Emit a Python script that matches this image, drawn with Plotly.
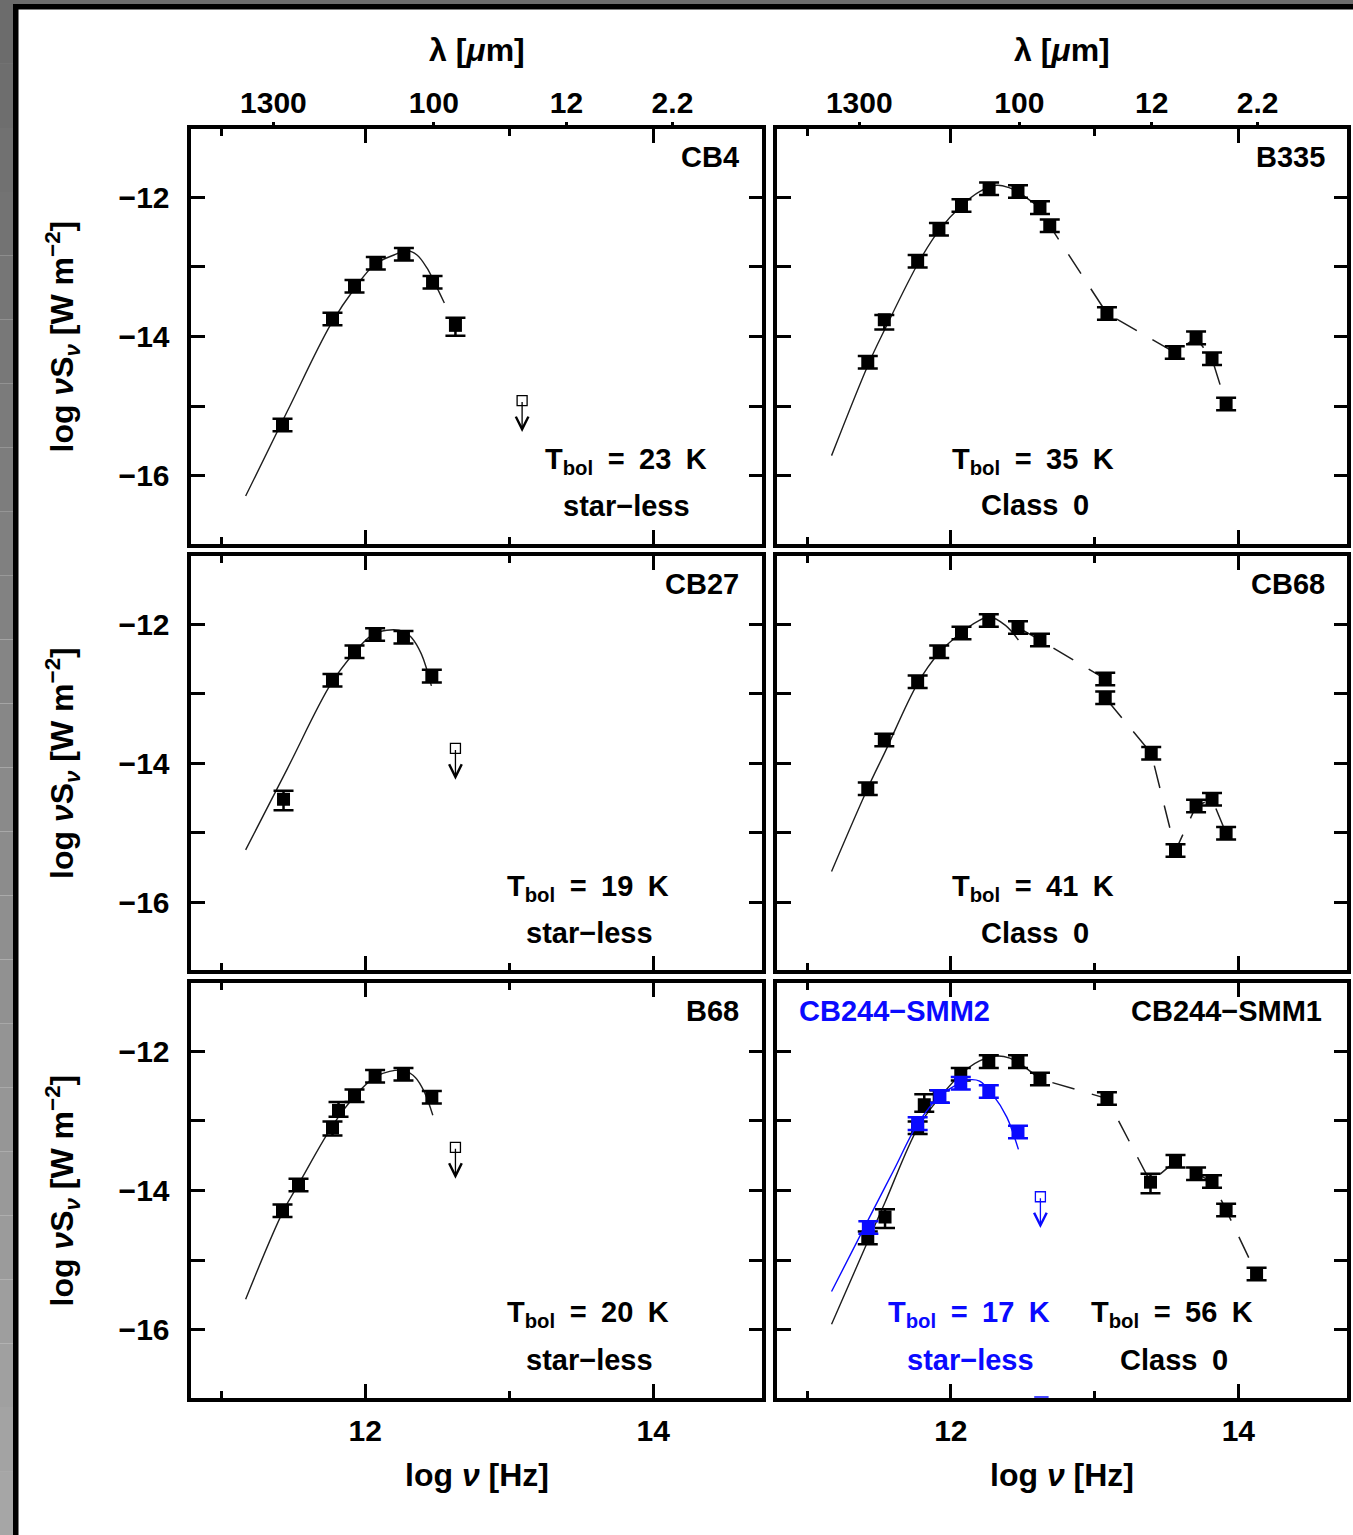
import plotly.graph_objects as go
import numpy as np

# ---------------------------------------------------------------------------
# Spectral energy distributions: log nu [Hz] vs log nuS_nu [W m^-2]
# ---------------------------------------------------------------------------

# CB4 (star-less)
cb4_lognu = [11.426, 11.773, 11.926, 12.074, 12.269, 12.468, 12.627]
cb4_logflux = [-15.27, -13.75, -13.28, -12.95, -12.82, -13.22, -13.84]
cb4_err_up = [0.09, 0.09, 0.09, 0.09, 0.09, 0.09, 0.11]
cb4_err_dn = [0.09, 0.09, 0.09, 0.09, 0.09, 0.09, 0.15]
cb4_lim_lognu = [13.09]
cb4_lim_logflux = [-14.92]
cb4_fit_lognu = [11.17, 11.46, 11.76, 11.93, 12.07, 12.20, 12.29, 12.36, 12.43, 12.48, 12.55]
cb4_fit_logflux = [-16.29, -15.07, -13.83, -13.30, -12.96, -12.83, -12.77, -12.83, -13.02, -13.22, -13.52]

# B335 (Class 0)
b335_lognu = [11.422, 11.537, 11.769, 11.917, 12.074, 12.266, 12.467, 12.620, 12.688,
              13.086, 13.558, 13.706, 13.817, 13.915]
b335_logflux = [-14.37, -13.76, -12.92, -12.46, -12.12, -11.88, -11.92, -12.15, -12.41,
                -13.67, -14.23, -14.02, -14.32, -14.97]
b335_err_up = [0.09, 0.07, 0.09, 0.09, 0.09, 0.09, 0.09, 0.09, 0.09, 0.09, 0.09, 0.09, 0.09, 0.09]
b335_err_dn = [0.09, 0.14, 0.09, 0.09, 0.09, 0.09, 0.09, 0.09, 0.09, 0.09, 0.09, 0.09, 0.09, 0.09]
b335_fit_lognu = [11.17, 11.43, 11.54, 11.78, 11.92, 12.07, 12.20, 12.32, 12.40, 12.47]
b335_fit_logflux = [-15.71, -14.38, -13.90, -12.92, -12.47, -12.13, -11.92, -11.83, -11.86, -11.93]

# CB27 (star-less)
cb27_lognu = [11.433, 11.773, 11.926, 12.069, 12.266, 12.463]
cb27_logflux = [-14.52, -12.81, -12.40, -12.15, -12.19, -12.75]
cb27_err_up = [0.12, 0.09, 0.09, 0.09, 0.09, 0.09]
cb27_err_dn = [0.16, 0.09, 0.09, 0.09, 0.09, 0.09]
cb27_lim_lognu = [12.627]
cb27_lim_logflux = [-13.79]
cb27_fit_lognu = [11.17, 11.46, 11.76, 11.93, 12.04, 12.15, 12.27, 12.32, 12.39, 12.46]
cb27_fit_logflux = [-15.25, -14.08, -12.87, -12.40, -12.17, -12.09, -12.11, -12.19, -12.43, -12.89]

# CB68 (Class 0)
cb68_lognu = [11.422, 11.537, 11.769, 11.919, 12.074, 12.264, 12.467, 12.620, 13.074, 13.074,
              13.394, 13.563, 13.706, 13.817, 13.915]
cb68_logflux = [-14.37, -13.67, -12.83, -12.40, -12.13, -11.95, -12.05, -12.23, -12.79, -13.06,
                -13.86, -15.26, -14.62, -14.52, -15.01]
cb68_err_up = [0.09] * 15
cb68_err_dn = [0.09] * 15
cb68_fit_lognu = [11.17, 11.42, 11.54, 11.77, 11.92, 12.07, 12.18, 12.27, 12.38, 12.47]
cb68_fit_logflux = [-15.56, -14.37, -13.85, -12.85, -12.41, -12.13, -11.97, -11.90, -12.02, -12.23]

# B68 (star-less)
b68_lognu = [11.426, 11.537, 11.773, 11.815, 11.926, 12.069, 12.266, 12.463]
b68_logflux = [-14.29, -13.92, -13.10, -12.85, -12.64, -12.36, -12.33, -12.66]
b68_err_up = [0.09, 0.09, 0.09, 0.12, 0.09, 0.09, 0.09, 0.09]
b68_err_dn = [0.09, 0.09, 0.11, 0.09, 0.09, 0.09, 0.09, 0.09]
b68_lim_lognu = [12.627]
b68_lim_logflux = [-13.38]
b68_fit_lognu = [11.17, 11.43, 11.54, 11.77, 11.93, 12.07, 12.17, 12.27, 12.35, 12.41, 12.47]
b68_fit_logflux = [-15.56, -14.30, -13.90, -13.08, -12.64, -12.37, -12.29, -12.28, -12.38, -12.58, -12.92]

# CB244-SMM1 (Class 0)
smm1_lognu = [11.422, 11.542, 11.769, 11.815, 11.919, 12.069, 12.264, 12.467, 12.620, 13.086,
              13.389, 13.563, 13.706, 13.817, 13.915, 14.127]
smm1_logflux = [-14.68, -14.38, -13.10, -12.77, -12.65, -12.33, -12.15, -12.15, -12.40, -12.68,
                -13.88, -13.58, -13.76, -13.87, -14.28, -15.20]
smm1_err_up = [0.09, 0.11, 0.09, 0.15, 0.09, 0.09, 0.09, 0.09, 0.09, 0.09, 0.12, 0.09, 0.09, 0.09, 0.09, 0.09]
smm1_err_dn = [0.09, 0.16, 0.09, 0.10, 0.09, 0.09, 0.09, 0.09, 0.09, 0.09, 0.16, 0.09, 0.09, 0.09, 0.09, 0.09]
smm1_fit_lognu = [11.17, 11.42, 11.54, 11.77, 11.92, 12.07, 12.20, 12.32, 12.41, 12.47]
smm1_fit_logflux = [-15.92, -14.74, -14.18, -13.10, -12.67, -12.33, -12.14, -12.07, -12.10, -12.17]

# CB244-SMM2 (star-less)
smm2_lognu = [11.426, 11.769, 11.924, 12.069, 12.264, 12.467]
smm2_logflux = [-14.53, -13.04, -12.65, -12.46, -12.58, -13.16]
smm2_err_up = [0.09] * 6
smm2_err_dn = [0.09] * 6
smm2_lim_lognu = [12.623]
smm2_lim_logflux = [-14.09]
smm2_fit_lognu = [11.17, 11.43, 11.60, 11.77, 11.92, 12.07, 12.13, 12.20, 12.29, 12.39, 12.47]
smm2_fit_logflux = [-15.45, -14.40, -13.72, -13.04, -12.65, -12.45, -12.41, -12.43, -12.62, -12.95, -13.41]

# Axis ticks
lognu_major = [12, 14]
lognu_major_text = ["12", "14"]
lognu_minor = [11, 13]
logflux_major = [-16, -14, -12]
logflux_major_text = ["\u221216", "\u221214", "\u221212"]
logflux_minor = [-15, -13]
wavelength_um = [1300, 100, 12, 2.2]
wavelength_text = ["1300", "100", "12", "2.2"]
C_UM_HZ = 2.99792458e14  # speed of light in micron * Hz

# ---------------------------------------------------------------------------
# Page geometry (pixels)
# ---------------------------------------------------------------------------
FIG_W, FIG_H = 1353, 1535
FRAME_LW = 3.5
COLS_PX = [(189.5, 764.0), (775.5, 1349.0)]
ROWS_PX = [(127.5, 545.5), (554.5, 971.5), (981.5, 1399.5)]
X_SPAN = (10.78, 14.77)
Y_SPAN = (-17.0, -11.0)

FONT = "Liberation Sans"
FS = 29        # panel texts
FS_TICK = 30   # tick labels
FS_TITLE = 32  # axis titles
BLUE = "#0a0aff"
INK = "#000000"
CURVE = "#1e1e1e"
ARROW_LEN = 0.45


def pxx(x):
    return x / FIG_W


def pxy(y):
    return 1 - y / FIG_H


fig = go.Figure()
layout_axes = {}
tickfont = dict(family=FONT, size=FS_TICK, color=INK, weight="bold")

for r, (top, bot) in enumerate(ROWS_PX):
    for c, (left, right) in enumerate(COLS_PX):
        i = r * 2 + c + 1
        half = FRAME_LW / 2
        xper = (X_SPAN[1] - X_SPAN[0]) / (right - left)
        yper = (Y_SPAN[1] - Y_SPAN[0]) / (bot - top)
        xdom = [pxx(left + half), pxx(right - half)]
        ydom = [pxy(bot - half), pxy(top + half)]
        xr = [X_SPAN[0] + half * xper, X_SPAN[1] - half * xper]
        yr = [Y_SPAN[0] + half * yper, Y_SPAN[1] - half * yper]
        sx = "" if i == 1 else str(i)
        layout_axes[f"xaxis{sx}"] = dict(
            domain=xdom, range=xr, anchor=f"y{sx}",
            showline=True, linewidth=FRAME_LW, linecolor=INK, mirror="allticks",
            ticks="inside", tickvals=lognu_major, ticktext=lognu_major_text,
            ticklen=14, tickwidth=2.5, tickcolor=INK,
            minor=dict(tickmode="array", tickvals=lognu_minor, ticks="inside",
                       ticklen=7, tickwidth=2.5, tickcolor=INK),
            showticklabels=(r == 2), ticklabelstandoff=3,
            tickfont=tickfont,
            showgrid=False, zeroline=False, fixedrange=True,
        )
        layout_axes[f"yaxis{sx}"] = dict(
            domain=ydom, range=yr, anchor=f"x{sx}",
            showline=True, linewidth=FRAME_LW, linecolor=INK, mirror="allticks",
            ticks="inside", tickvals=logflux_major, ticktext=logflux_major_text,
            ticklen=14, tickwidth=2.5, tickcolor=INK,
            minor=dict(tickmode="array", tickvals=logflux_minor, ticks="inside",
                       ticklen=14, tickwidth=2.5, tickcolor=INK),
            showticklabels=(c == 0), ticklabelstandoff=12,
            tickfont=tickfont,
            showgrid=False, zeroline=False, fixedrange=True,
        )

# Wavelength scale along the top of the upper row
lam_pos = [float(np.log10(C_UM_HZ / lam)) for lam in wavelength_um]
for k, base in enumerate(["x", "x2"]):
    ax_name = f"xaxis{7 + k}"
    base_layout = layout_axes["xaxis" if base == "x" else "xaxis2"]
    layout_axes[ax_name] = dict(
        overlaying=base, anchor="y" if base == "x" else "y2", side="top",
        domain=base_layout["domain"], range=base_layout["range"],
        tickvals=lam_pos, ticktext=wavelength_text,
        ticks="outside", ticklen=6, tickwidth=2.5, tickcolor=INK,
        showline=False, showgrid=False, zeroline=False, ticklabelstandoff=-3,
        tickfont=tickfont,
        fixedrange=True,
    )
    fig.add_trace(go.Scatter(x=[None], y=[None], xaxis=f"x{7 + k}",
                             yaxis="y" if base == "x" else "y2",
                             showlegend=False, hoverinfo="skip"))

annotations = []


def add_sed(i, fit_x, fit_y, xs, ys, up, dn, color, dash_from=None,
            lim_x=None, lim_y=None):
    sx = "" if i == 1 else str(i)
    xa, ya = f"x{sx}", f"y{sx}"
    fig.add_trace(go.Scatter(x=fit_x, y=fit_y, mode="lines", xaxis=xa, yaxis=ya,
                             line=dict(color=CURVE if color == INK else color, width=1.4,
                                       shape="spline", smoothing=1.0),
                             showlegend=False, hoverinfo="skip"))
    if dash_from is not None:
        fig.add_trace(go.Scatter(x=xs[dash_from:], y=ys[dash_from:], mode="lines",
                                 xaxis=xa, yaxis=ya,
                                 line=dict(color=CURVE, width=1.5, dash="23px,18px"),
                                 showlegend=False, hoverinfo="skip"))
    fig.add_trace(go.Scatter(
        x=xs, y=ys, mode="markers", xaxis=xa, yaxis=ya,
        marker=dict(symbol="square", size=13, color=color, line=dict(width=0)),
        error_y=dict(type="data", symmetric=False, array=up, arrayminus=dn,
                     color=color, thickness=2.5, width=10),
        showlegend=False, hoverinfo="skip"))
    if lim_x is not None:
        fig.add_trace(go.Scatter(
            x=lim_x, y=lim_y, mode="markers", xaxis=xa, yaxis=ya,
            marker=dict(symbol="square-open", size=10, color=color, line=dict(width=1.3, color=color)),
            showlegend=False, hoverinfo="skip"))
        for lx, ly in zip(lim_x, lim_y):
            annotations.append(dict(
                x=lx, y=ly - ARROW_LEN, ax=lx, ay=ly, xref=xa, yref=ya, axref=xa, ayref=ya,
                text="", showarrow=True, arrowhead=5, arrowsize=1.9, arrowwidth=1.3,
                arrowcolor=color, standoff=0, startstandoff=0))


add_sed(1, cb4_fit_lognu, cb4_fit_logflux, cb4_lognu, cb4_logflux, cb4_err_up, cb4_err_dn,
        INK, lim_x=cb4_lim_lognu, lim_y=cb4_lim_logflux)
add_sed(2, b335_fit_lognu, b335_fit_logflux, b335_lognu, b335_logflux, b335_err_up, b335_err_dn,
        INK, dash_from=6)
add_sed(3, cb27_fit_lognu, cb27_fit_logflux, cb27_lognu, cb27_logflux, cb27_err_up, cb27_err_dn,
        INK, lim_x=cb27_lim_lognu, lim_y=cb27_lim_logflux)
add_sed(4, cb68_fit_lognu, cb68_fit_logflux, cb68_lognu, cb68_logflux, cb68_err_up, cb68_err_dn,
        INK, dash_from=6)
add_sed(5, b68_fit_lognu, b68_fit_logflux, b68_lognu, b68_logflux, b68_err_up, b68_err_dn,
        INK, lim_x=b68_lim_lognu, lim_y=b68_lim_logflux)
add_sed(6, smm1_fit_lognu, smm1_fit_logflux, smm1_lognu, smm1_logflux, smm1_err_up, smm1_err_dn,
        INK, dash_from=7)
add_sed(6, smm2_fit_lognu, smm2_fit_logflux, smm2_lognu, smm2_logflux, smm2_err_up, smm2_err_dn,
        BLUE, lim_x=smm2_lim_lognu, lim_y=smm2_lim_logflux)


def label(text, x, y, xanchor="center", color=INK, size=FS):
    annotations.append(dict(text=text, x=pxx(x), y=pxy(y), xref="paper", yref="paper",
                            xanchor=xanchor, yanchor="middle", showarrow=False,
                            font=dict(family=FONT, size=size, color=color, weight="bold")))


SP = "\u2002"
MINUS = "\u2212"

# Source names
label("CB4", 741, 157, "right")
label("B335", 1327, 157, "right")
label("CB27", 741, 584, "right")
label("CB68", 1327, 584, "right")
label("B68", 741, 1011, "right")
label(f"CB244{MINUS}SMM1", 1324, 1011, "right")
label(f"CB244{MINUS}SMM2", 797, 1011, "left", color=BLUE)


# Bolometric temperatures and classes
def tbol(t):
    return f"T<sub>bol</sub>{SP}={SP}{t}{SP}K"


CLASS0 = f"Class{SP}0"
STARLESS = f"star{MINUS}less"

label(tbol(23), 626, 461)
label(STARLESS, 626, 506)
label(tbol(35), 1033, 461)
label(CLASS0, 1035, 505)
label(tbol(19), 588, 888)
label(STARLESS, 589, 933)
label(tbol(41), 1033, 888)
label(CLASS0, 1035, 933)
label(tbol(20), 588, 1314)
label(STARLESS, 589, 1360)
label(tbol(17), 969, 1314, color=BLUE)
label(STARLESS, 970, 1360, color=BLUE)
label(tbol(56), 1172, 1314)
label(CLASS0, 1174, 1360)

# Axis titles
for cx in [476.7, 1062.2]:
    label("\u03bb [<i>\u03bc</i>m]", cx, 50, size=FS_TITLE)
    label("log <i>\u03bd</i> [Hz]", cx, 1475, size=FS_TITLE)
for cy in [336.5, 763.0, 1190.5]:
    annotations.append(dict(
        text=f"log <i>\u03bd</i>S<sub><i>\u03bd</i></sub> [W m<sup>{MINUS}2</sup>]",
        x=pxx(62), y=pxy(cy), xref="paper", yref="paper", textangle=-90,
        xanchor="center", yanchor="middle", showarrow=False,
        font=dict(family=FONT, size=FS_TITLE, color=INK, weight="bold")))

# Window frame around the page
shapes = []
n_band = 24
for b in range(n_band):
    g = int(108 + (166 - 108) * b / (n_band - 1))
    shapes.append(dict(type="rect", xref="paper", yref="paper",
                       x0=0, x1=pxx(13), y0=pxy(FIG_H * (b + 1) / n_band), y1=pxy(FIG_H * b / n_band),
                       fillcolor=f"rgb({g},{g},{g})", line=dict(width=0), layer="above"))
shapes.append(dict(type="rect", xref="paper", yref="paper", x0=0, x1=1, y0=pxy(4), y1=1,
                   fillcolor="rgb(108,108,108)", line=dict(width=0), layer="above"))
shapes.append(dict(type="rect", xref="paper", yref="paper", x0=pxx(13), x1=pxx(18.5),
                   y0=0, y1=pxy(4), fillcolor="#000000", line=dict(width=0), layer="above"))
shapes.append(dict(type="rect", xref="paper", yref="paper", x0=pxx(13), x1=1,
                   y0=pxy(9.5), y1=pxy(4), fillcolor="#000000", line=dict(width=0), layer="above"))
# small blue mark on the lower frame of the CB244 panel
shapes.append(dict(type="line", xref="x6", yref="y6", x0=12.58, x1=12.68,
                   y0=layout_axes["yaxis6"]["range"][0], y1=layout_axes["yaxis6"]["range"][0],
                   line=dict(color=BLUE, width=3), layer="above"))

fig.update_layout(
    width=FIG_W, height=FIG_H, autosize=False,
    margin=dict(l=0, r=0, t=0, b=0, pad=0),
    paper_bgcolor="white", plot_bgcolor="white",
    showlegend=False, annotations=annotations, shapes=shapes,
    **layout_axes,
)

fig.write_html("out.html")
